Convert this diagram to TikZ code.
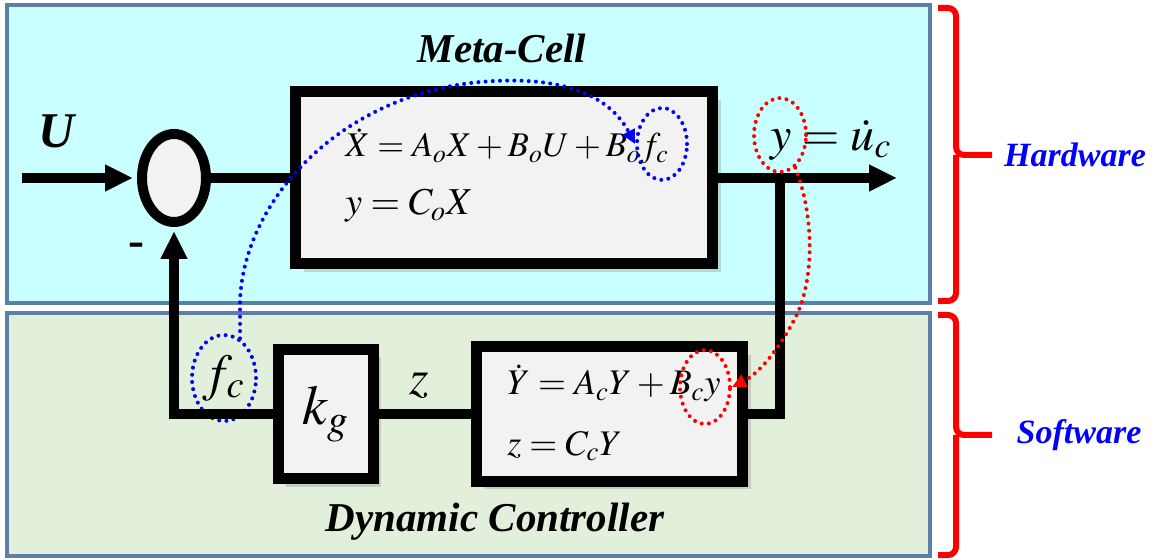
\documentclass[tikz,border=0pt]{standalone}
\usepackage{mathptmx}
\usepackage[no-math]{fontspec}
\setmainfont{Liberation Serif}
\usetikzlibrary{arrows.meta,shapes.geometric,shadows}
\definecolor{hwCyan}{HTML}{C9FFFF}
\definecolor{swGreen}{HTML}{E2EFDA}
\definecolor{panelEdge}{HTML}{5B80A8}
\definecolor{boxGray}{HTML}{F2F2F2}
\definecolor{markBlue}{HTML}{0000FF}
\definecolor{markRed}{HTML}{FF0000}

\tikzset{
  panel/.style={draw=panelEdge, line width=1.6pt},
  block/.style={draw, line width=5.5pt, fill=boxGray, inner sep=0pt,
    drop shadow={shadow xshift=4pt, shadow yshift=-4pt, opacity=0.3}},
  sumjunction/.style={ellipse, draw, line width=5pt, fill=boxGray, inner sep=0pt,
    minimum width=32pt, minimum height=44pt},
  wire/.style={line width=5pt},
  sig/.style={wire, -{Triangle[length=14pt,width=12.5pt]}},
  dotline/.style={line width=2pt, dash pattern=on 0pt off 3.6pt, line cap=round},
  ring/.style={ellipse, dotline, inner sep=0pt},
  title/.style={font=\fontsize{20.5}{24}\selectfont\bfseries\itshape},
  side/.style={font=\fontsize{17}{20}\selectfont\bfseries\itshape, text=markBlue},
  brace/.style={draw=markRed, line width=3pt, rounded corners=4pt},
}

\begin{document}
\begin{tikzpicture}[x=0.5pt, y=-0.5pt]
  \useasboundingbox (0,0) rectangle (1160,560);
  % Panels
  \draw[panel, fill=hwCyan] (7,5) rectangle (930,303);
  \draw[panel, fill=swGreen] (7,313) rectangle (930,556);
  % Titles
  \node[title] (mcTitle) at (502,48) {Meta-Cell};
  \node[title] (dcTitle) at (495,522) {Dynamic Controller};
  % Blocks
  \node[block, minimum width=208.5pt, minimum height=86pt] (plant) at (504,178) {};
  \node[sumjunction] (sum) at (174,178) {};
  \node[block, minimum width=47.5pt, minimum height=64.5pt,
    font=\fontsize{28}{28}\selectfont] (kg) at (325.5,414) {$k_g$};
  \node[block, minimum width=133pt, minimum height=67pt] (ctl) at (609.5,414) {};
  % Equations
  \node[anchor=base west, inner sep=0pt, font=\fontsize{17.3}{17}\selectfont]
    (plantEqA) at (345,157) {$\dot X = A_oX + B_oU + B_of_c$};
  \node[anchor=base west, inner sep=0pt, font=\fontsize{19}{19}\selectfont]
    (plantEqB) at (345,215) {$y = C_oX$};
  \node[anchor=base west, inner sep=0pt, font=\fontsize{18}{18}\selectfont]
    (ctlEqA) at (507,395) {$\dot Y = A_cY + B_cy$};
  \node[anchor=base west, inner sep=0pt, font=\fontsize{18}{18}\selectfont]
    (ctlEqB) at (507,455) {$z = C_cY$};
  % Signal labels
  \node[font=\fontsize{25}{25}\selectfont\bfseries\itshape] (uLbl) at (57,131) {U};
  \node[font=\fontsize{24}{24}\selectfont\bfseries] (minusLbl) at (136,250) {-};
  \node[font=\fontsize{24}{24}\selectfont] (outLbl) at (831,140) {$y = \dot u_c$};
  \node[font=\fontsize{25}{25}\selectfont] (zLbl) at (419,386) {$z$};
  \node[ring, draw=markBlue, minimum width=32pt, minimum height=43pt,
    font=\fontsize{26}{26}\selectfont] (fc) at (224,378) {$f_c$};
  % Wires
  \coordinate (uIn) at (22,178);
  \coordinate (yOut) at (897,178);
  \coordinate (tap) at (780,178);
  \draw[sig, shorten >=2pt] (uIn) -- (sum.west);
  \draw[wire] (sum.east) -- (plant.west);
  \draw[sig] (plant.east) -- (yOut);
  \draw[wire] (tap) |- (ctl.east);
  \draw[wire] (ctl.west) -- (kg.east);
  \draw[sig, shorten >=2pt] (kg.west) -| (sum.south);
  % Highlights
  \node[ring, draw=markBlue, minimum width=25pt, minimum height=36pt] (ringF) at (662,144) {};
  \node[ring, draw=markRed, minimum width=26pt, minimum height=37pt] (ringY) at (780,135) {};
  \node[ring, draw=markRed, minimum width=25pt, minimum height=37pt] (ringYc) at (705,387) {};
  \draw[dotline, markBlue, -{Triangle[length=7pt,width=6.5pt]}] (fc.68) -- ++(0,-38)
    .. controls +(4,-100) and (340,95) .. (480,82)
    .. controls (570,74) and (612,100) .. (ringF.west);
  \draw[dotline, markRed, -{Triangle[length=7pt,width=6.5pt]}] (ringY.-65)
    .. controls (814,215) and (814,275) .. (798,312)
    .. controls (785,340) and (762,372) .. (ringYc.east);
  % Braces
  \draw[brace] (938,8) -| (956,155) -- (992,155);
  \draw[brace] (938,301) -| (956,155);
  \draw[brace] (938,315) -| (956,435) -- (992,435);
  \draw[brace] (938,555) -| (956,435);
  \node[side] (hwLbl) at (1075,155) {Hardware};
  \node[side] (swLbl) at (1079,435) {Software};
\end{tikzpicture}
\end{document}
